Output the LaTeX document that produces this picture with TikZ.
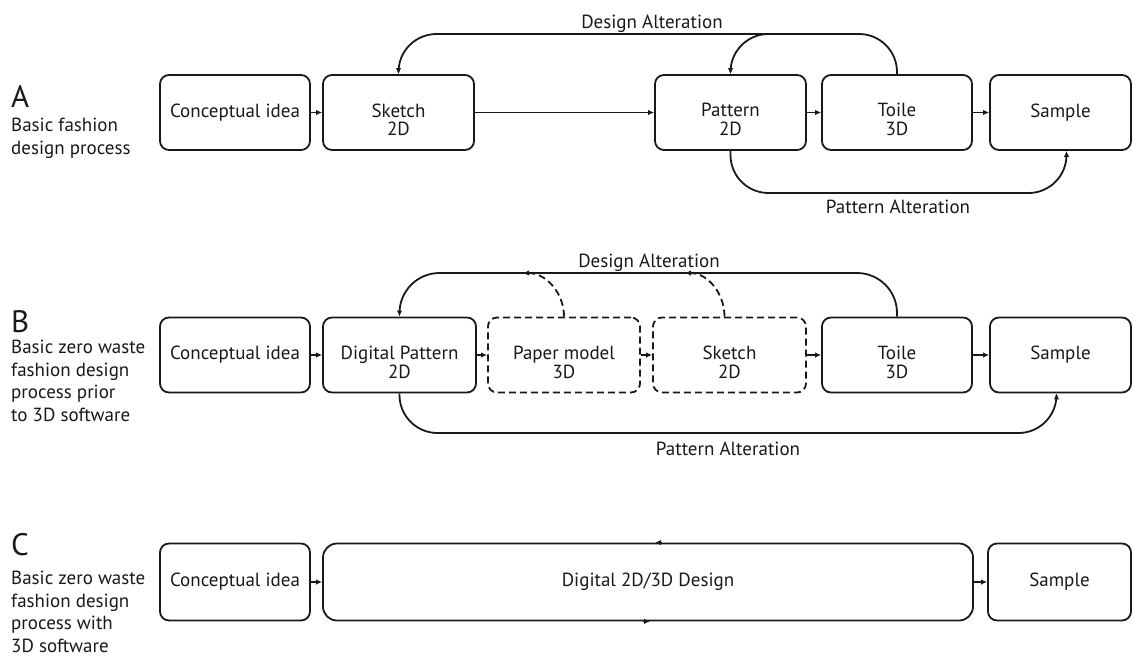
\documentclass[tikz,border=0pt]{standalone}
\usepackage{fontspec}
\setmainfont{PT Sans}
\usetikzlibrary{arrows.meta}

\definecolor{ink}{gray}{0.1}

% first line sits in the middle of the box, second line hangs below it
\newcommand{\twolines}[2]{\raisebox{0pt}[\height][4.5pt]{\begin{tabular}[t]{@{}c@{}}#1\\#2\end{tabular}}}

\tikzset{
  box/.style={draw=ink, line width=1.8pt, rounded corners=9pt, minimum width=150pt, minimum height=75pt, inner sep=0pt, text=ink, font=\fontsize{19}{17.5}\selectfont},
  dashbox/.style={box, dash pattern=on 7pt off 4pt},
  flow/.style={draw=ink, line width=1.8pt, -{Latex[length=6pt,width=5.5pt]}},
  altlabel/.style={anchor=base, inner sep=0pt, text=ink, font=\fontsize{19}{19}\selectfont},
  letter/.style={anchor=base west, inner sep=0pt, text=ink, font=\fontsize{31}{31}\selectfont},
  notes/.style={anchor=north west, align=left, inner sep=0pt, text=ink, font=\fontsize{19}{22.5}\selectfont},
}

\begin{document}
\begin{tikzpicture}[x=1pt,y=-1pt]
\useasboundingbox (0,0) rectangle (1133,657);

% ---- A: basic fashion design process
\node[letter] (letA) at (11,107) {A};
\node[notes] (notesA) at (11,118) {Basic fashion\\design process};

\node[box] (ideaA) at (235,112.5) {Conceptual idea};
\node[box, minimum width=151pt] (sketchA) at (398.5,112.5) {\twolines{Sketch}{2D}};
\node[box, minimum width=151pt] (patternA) at (730.5,112.5) {\twolines{Pattern}{2D}};
\node[box] (toileA) at (897,112.5) {\twolines{Toile}{3D}};
\node[box, minimum width=141pt] (sampleA) at (1060.5,112.5) {Sample};

\draw[flow] (ideaA) -- (sketchA);
\draw[flow] (sketchA) -- (patternA);
\draw[flow] (patternA) -- (toileA);
\draw[flow] (toileA) -- (sampleA);

\coordinate (topA) at (0,34);
\coordinate (forkA) at (772,34);
\coordinate (botA) at (0,193);
\draw[flow, rounded corners=38pt] (toileA.north) |- (sketchA.north |- topA) -- (sketchA.north);
\draw[flow, rounded corners=38pt] (forkA) -| (patternA.north);
\draw[flow, rounded corners=38pt] (patternA.south) |- ([xshift=6pt]sampleA.south |- botA) -- ([xshift=6pt]sampleA.south);
\node[altlabel] (desA) at (652,28) {Design Alteration};
\node[altlabel] (patA) at (898,213) {Pattern Alteration};

% ---- B: zero waste, before 3D software
\node[letter] (letB) at (11,332) {B};
\node[notes] (notesB) at (11,340) {Basic zero waste\\fashion design\\process prior\\to 3D software};

\node[box] (ideaB) at (235,355) {Conceptual idea};
\node[box, minimum width=153pt] (digiB) at (399.5,355) {\twolines{Digital Pattern}{2D}};
\node[dashbox, minimum width=152pt] (paperB) at (564,355) {\twolines{Paper model}{3D}};
\node[dashbox, minimum width=153pt] (sketchB) at (729.5,355) {\twolines{Sketch}{2D}};
\node[box] (toileB) at (897,355) {\twolines{Toile}{3D}};
\node[box, minimum width=141pt] (sampleB) at (1060.5,355) {Sample};

\draw[flow] (ideaB) -- (digiB);
\draw[flow] (digiB) -- (paperB);
\draw[flow] (paperB) -- (sketchB);
\draw[flow] (sketchB) -- (toileB);
\draw[flow] (toileB) -- (sampleB);

\coordinate (topB) at (0,273);
\coordinate (joinB1) at (523,273);
\coordinate (joinB2) at (685,273);
\coordinate (botB) at (0,433);
\draw[flow, rounded corners=40pt] (toileB.north) |- (digiB.north |- topB) -- (digiB.north);
\draw[flow, dash pattern=on 7pt off 4pt] (paperB.north) to[out=90, in=0] (joinB1);
\draw[flow, dash pattern=on 7pt off 4pt] ([xshift=-5pt]sketchB.north) to[out=90, in=0] (joinB2);
\draw[flow, rounded corners=38pt] (digiB.south) |- ([xshift=-4pt]sampleB.south |- botB) -- ([xshift=-4pt]sampleB.south);
\node[altlabel] (desB) at (649,267) {Design Alteration};
\node[altlabel] (patB) at (728,455) {Pattern Alteration};

% ---- C: zero waste, with 3D software
\node[letter] (letC) at (11,555) {C};
\node[notes] (notesC) at (11,571) {Basic zero waste\\fashion design\\process with\\3D software};

\node[box, minimum height=77pt] (ideaC) at (235,582) {Conceptual idea};
\node[box, minimum height=77pt, minimum width=650pt, rounded corners=14pt] (designC) at (648,582) {Digital 2D/3D Design};
\node[box, minimum height=77pt, minimum width=143pt] (sampleC) at (1059.5,582) {Sample};

\draw[flow] (ideaC) -- (designC);
\draw[flow] (designC) -- (sampleC);
% loop marks on the design box
\draw[flow] ([xshift=14pt]designC.north) -- ([xshift=7pt]designC.north);
\draw[flow] ([xshift=-5pt]designC.south) -- ([xshift=2pt]designC.south);
\end{tikzpicture}
\end{document}
